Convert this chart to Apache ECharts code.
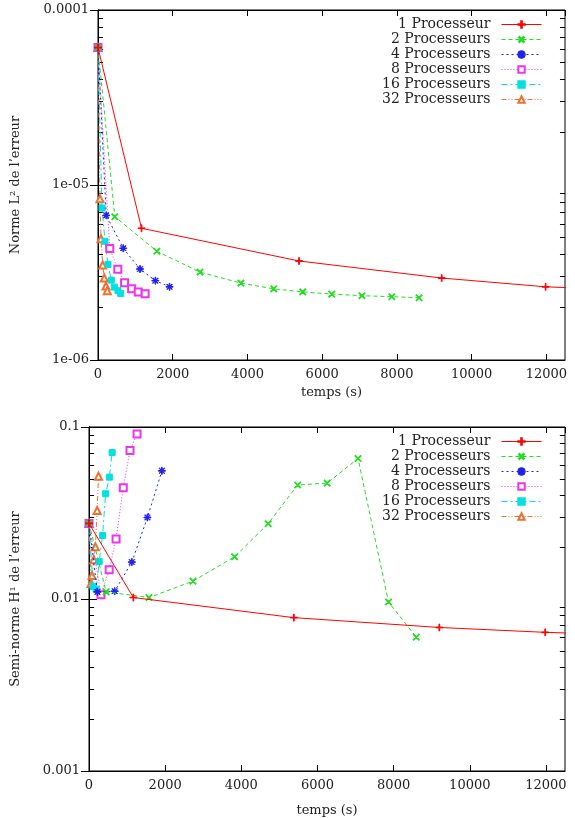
<!DOCTYPE html>
<html><head><meta charset="utf-8">
<script src="https://cdn.jsdelivr.net/npm/echarts@6/dist/echarts.min.js"></script>
<style>html,body{margin:0;padding:0;background:#fff}#c{width:575px;height:818px}</style>
</head><body><div id="c"></div>
<script>
// ---- data ----
const seriesNames = ['1 Processeur','2 Processeurs','4 Processeurs','8 Processeurs','16 Processeurs','32 Processeurs'];
const xTickLabels = ['0','2000','4000','6000','8000','10000','12000'];
const yTickLabelsL2 = {'-6':'1e-06','-5':'1e-05','-4':'0.0001'};
const yTickLabelsH1 = {'-3':'0.001','-2':'0.01','-1':'0.1'};

const t1  = [0, 1165, 5380, 9200, 11980, 14000];
const l2_1 = [6.1e-5, 5.66e-6, 3.68e-6, 2.94e-6, 2.62e-6, 2.52e-6];
const h1_1 = [0.0275, 0.0102, 0.00779, 0.00683, 0.00640, 0.00620];

const t2  = [0, 450, 1575, 2730, 3825, 4705, 5480, 6255, 7065, 7865, 8595];
const l2_2 = [6.1e-5, 6.59e-6, 4.18e-6, 3.18e-6, 2.75e-6, 2.55e-6, 2.45e-6, 2.38e-6, 2.33e-6, 2.30e-6, 2.27e-6];
const h1_2 = [0.0275, 0.0110, 0.0102, 0.0127, 0.0176, 0.0274, 0.0460, 0.0472, 0.0656, 0.0096, 0.0060];

const t4  = [0, 220, 675, 1125, 1535, 1915];
const l2_4 = [6.1e-5, 6.71e-6, 4.35e-6, 3.31e-6, 2.84e-6, 2.62e-6];
const h1_4 = [0.0275, 0.0110, 0.0111, 0.0164, 0.0298, 0.0556];

const t8  = [0, 315, 530, 711, 900, 1077, 1262];
const l2_8 = [6.1e-5, 4.33e-6, 3.30e-6, 2.76e-6, 2.55e-6, 2.45e-6, 2.39e-6];
const h1_8 = [0.0275, 0.0106, 0.0148, 0.0223, 0.0443, 0.0729, 0.0912];

const t16  = [0, 107, 187, 267, 356, 436, 535, 607];
const l2_16 = [6.1e-5, 7.39e-6, 4.77e-6, 3.52e-6, 2.86e-6, 2.61e-6, 2.49e-6, 2.40e-6];
const h1_16 = [0.0275, 0.0118, 0.0114, 0.0165, 0.0234, 0.0409, 0.0511, 0.0710];

const t32  = [0, 53, 80, 125, 168, 214, 249];
const l2_32 = [6.1e-5, 8.35e-6, 4.93e-6, 3.49e-6, 2.94e-6, 2.65e-6, 2.49e-6];
const h1_32 = [0.0275, 0.0123, 0.0137, 0.0169, 0.0201, 0.0327, 0.0518];

// ---- build ----
const FONT = 'DejaVu Serif';
const X_MIN = 0, X_MAX = 12500;
const TICK_DX = 135; // minor tick length along x, in data units (~5 px)
const times = [t1, t2, t4, t8, t16, t32];
const l2 = [l2_1, l2_2, l2_4, l2_8, l2_16, l2_32];
const h1 = [h1_1, h1_2, h1_4, h1_8, h1_16, h1_32];

const PLUS = 'path://M4.5,0H5.5V10H4.5Z M0,4.5H10V5.5H0Z';
const STAR = 'path://M4.5,0H5.5V10H4.5Z M0,4.5H10V5.5H0Z M1,1.6L1.6,1L9,8.4L8.4,9Z M9,1.6L1.6,9L1,8.4L8.4,1Z';
const styles = [
  {color:'#ff0000', type:'solid', symbol:PLUS, size:7, rot:0},
  {color:'#22dd22', type:[4,3], symbol:PLUS, size:8, rot:45},
  {color:'#2020ee', type:[2,3], symbol:STAR, size:7, rot:0},
  {color:'#ee33ee', type:[1,2], symbol:'emptyRect', size:7, rot:0},
  {color:'#00e0e0', type:[6,3,2,3], symbol:'rect', size:6, rot:0},
  {color:'#f07030', type:[5,2,1,2,1,2], symbol:'emptyTriangle', size:7, rot:0}
];

function zip(a, b) { return a.map((v, i) => [v, b[i]]); }

function minorValues(lo, hi) {
  const out = [];
  for (let e = lo; e < hi; e++) for (let m = 2; m <= 9; m++) out.push(m * Math.pow(10, e));
  return out;
}

// minor log ticks as short mark lines on both frame sides (placed by the axes' scales)
function minorTickLines(vals) {
  const d = [];
  vals.forEach(v => {
    d.push([{coord:[X_MIN, v]}, {coord:[X_MIN + TICK_DX, v]}]);
    d.push([{coord:[X_MAX - TICK_DX, v]}, {coord:[X_MAX, v]}]);
  });
  return {
    silent:true, symbol:['none','none'], animation:false,
    label:{show:false}, emphasis:{disabled:true},
    lineStyle:{color:'#000', width:1, type:'solid'},
    data:d
  };
}

function xAxisFor(gridIndex, gap) {
  return [{
    type:'value', gridIndex, min:X_MIN, max:X_MAX, interval:2000, position:'bottom',
    axisLine:{show:true, lineStyle:{color:'#000', width:1}},
    axisTick:{show:true, inside:true, length:6, lineStyle:{color:'#000'}},
    splitLine:{show:false},
    axisLabel:{show:true, showMaxLabel:false, margin:8, color:'#222', fontFamily:FONT, fontSize:13,
      formatter: v => { const i = Math.round(v / 2000); return (v % 2000 === 0 && xTickLabels[i] !== undefined) ? xTickLabels[i] : ''; }},
    name:'temps (s)', nameLocation:'middle', nameGap:gap,
    nameTextStyle:{color:'#222', fontFamily:FONT, fontSize:13}
  }, {
    type:'value', gridIndex, min:X_MIN, max:X_MAX, interval:2000, position:'top',
    axisLine:{show:true, lineStyle:{color:'#000', width:1}},
    axisTick:{show:true, inside:true, length:6, lineStyle:{color:'#000'}},
    splitLine:{show:false}, axisLabel:{show:false}
  }];
}

function yAxisFor(gridIndex, min, max, labels, name, gap) {
  return [{
    type:'log', logBase:10, gridIndex, min, max, position:'left',
    axisLine:{show:true, lineStyle:{color:'#000', width:1}},
    axisTick:{show:true, inside:true, length:8, lineStyle:{color:'#000'}},
    splitLine:{show:false}, minorTick:{show:false},
    axisLabel:{show:true, margin:9, color:'#222', fontFamily:FONT, fontSize:13,
      formatter: v => labels[String(Math.round(Math.log10(v)))] || ''},
    name, nameLocation:'middle', nameGap:gap, nameRotate:90,
    nameTextStyle:{color:'#222', fontFamily:FONT, fontSize:13}
  }, {
    type:'log', logBase:10, gridIndex, min, max, position:'right',
    axisLine:{show:true, lineStyle:{color:'#000', width:1}},
    axisTick:{show:true, inside:true, length:8, lineStyle:{color:'#000'}},
    splitLine:{show:false}, axisLabel:{show:false}
  }];
}

const series = [];
[[l2, 0, 0, minorValues(-6, -4)], [h1, 2, 2, minorValues(-3, -1)]].forEach(([vals, xi, yi, minors]) => {
  seriesNames.forEach((name, k) => {
    const s = styles[k];
    const ser = {
      type:'line', name, xAxisIndex:xi, yAxisIndex:yi, data: zip(times[k], vals[k]),
      symbol:s.symbol, symbolSize:s.size, symbolRotate:s.rot, showSymbol:true, clip:true,
      lineStyle:{color:s.color, width:1, type:s.type},
      itemStyle:{color:s.color, borderColor:s.color, borderWidth:1},
      emphasis:{disabled:true}, z:10 - k
    };
    if (k === 0) ser.markLine = minorTickLines(minors);
    series.push(ser);
  });
});

function legendFor(top) {
  return {
    data: seriesNames, orient:'vertical', right:28, top, align:'right',
    itemWidth:40, itemHeight:8, itemGap:0, selectedMode:false,
    lineStyle:{width:1},
    textStyle:{color:'#222', fontFamily:FONT, fontSize:14, lineHeight:15, padding:[0,6,0,0]}
  };
}

const option = {
  animation:false,
  backgroundColor:'#fff',
  grid:[
    {left:98, right:10, top:10, height:350, show:true, borderColor:'#000', borderWidth:1},
    {left:89, right:10, top:427, height:351, show:true, borderColor:'#000', borderWidth:1}
  ],
  legend:[legendFor(12), legendFor(429)],
  xAxis:[...xAxisFor(0, 26), ...xAxisFor(1, 33)],
  yAxis:[
    ...yAxisFor(0, 1e-6, 1e-4, yTickLabelsL2, 'Norme L² de l\u2019erreur', 76),
    ...yAxisFor(1, 1e-3, 1e-1, yTickLabelsH1, 'Semi-norme H¹ de l\u2019erreur', 67)
  ],
  series
};
const chart = echarts.init(document.getElementById('c'), null, {renderer:'canvas'});
chart.setOption(option);
</script>
</body></html>
